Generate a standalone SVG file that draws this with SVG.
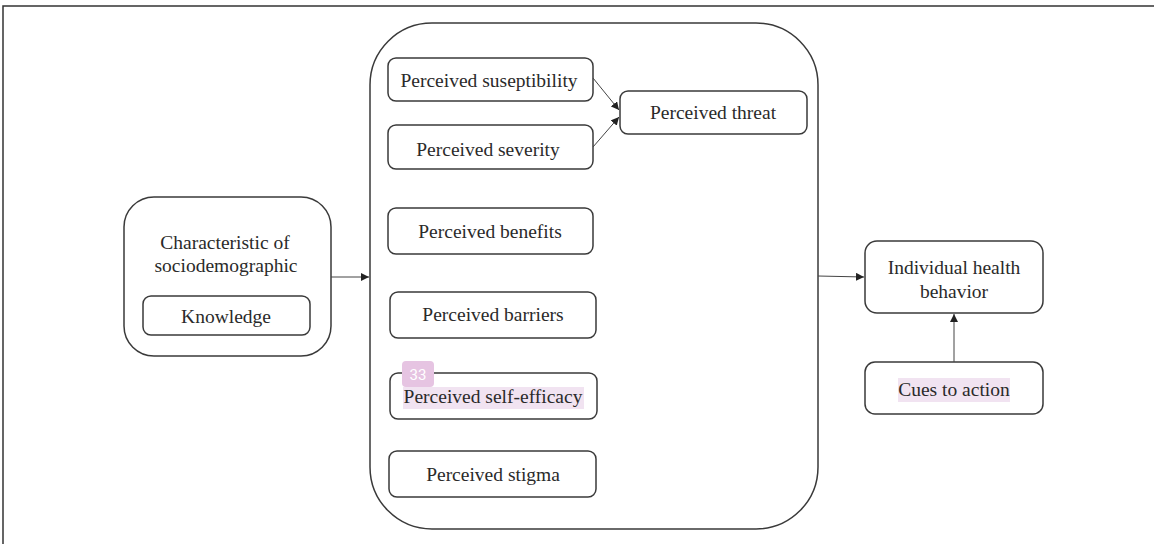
<svg xmlns="http://www.w3.org/2000/svg" width="1154" height="544" viewBox="0 0 1154 544">
<defs>
<style>
.box{fill:#fff;stroke:#3a3a3a;stroke-width:1.5}
.t{font-family:"Liberation Serif","Times New Roman",serif;font-size:19.5px;fill:#2a2a2a;text-anchor:middle}
.c{stroke:#444;stroke-width:1;fill:none}
.hl{fill:#f1e3f1}
</style>
<marker id="ah" viewBox="0 0 10 10" refX="10" refY="5" markerWidth="8" markerHeight="8" markerUnits="userSpaceOnUse" orient="auto">
<path d="M0,0 L10,5 L0,10 z" fill="#222"/>
</marker>
</defs>
<rect x="0" y="0" width="1154" height="544" fill="#fff"/>
<rect x="3" y="6" width="1170" height="560" fill="none" stroke="#333" stroke-width="1.5"/>
<g id="main">
<rect class="box" x="370" y="23" width="448" height="506" rx="62" ry="62"/>
</g>
<g id="sociodemographic">
<rect class="box" x="124" y="197" width="207" height="159" rx="30" ry="30"/>
<text class="t" x="225" y="249">Characteristic of</text>
<text class="t" x="226" y="272">sociodemographic</text>
</g>
<g id="knowledge">
<rect class="box" x="143" y="296" width="167" height="39" rx="8" ry="8"/>
<text class="t" x="226" y="323">Knowledge</text>
</g>
<g id="susceptibility">
<rect class="box" x="388" y="58" width="205" height="43" rx="8" ry="8"/>
<text class="t" x="489" y="87">Perceived suseptibility</text>
</g>
<g id="severity">
<rect class="box" x="388" y="125" width="205" height="44" rx="8" ry="8"/>
<text class="t" x="488" y="156">Perceived severity</text>
</g>
<g id="threat">
<rect class="box" x="620" y="91" width="187" height="43" rx="8" ry="8"/>
<text class="t" x="713" y="119">Perceived threat</text>
</g>
<g id="benefits">
<rect class="box" x="388" y="208" width="205" height="46" rx="8" ry="8"/>
<text class="t" x="490" y="238">Perceived benefits</text>
</g>
<g id="barriers">
<rect class="box" x="390" y="292" width="206" height="46" rx="8" ry="8"/>
<text class="t" x="493" y="321">Perceived barriers</text>
</g>
<g id="selfefficacy">
<rect class="box" x="390" y="373" width="207" height="46" rx="8" ry="8"/>
<rect class="hl" x="403" y="387" width="181" height="22"/>
<rect x="402" y="361" width="32" height="26" rx="4" fill="#e6c4e2"/>
<text x="418" y="380" font-family="Roboto,sans-serif" font-size="15" fill="#fff" text-anchor="middle">33</text>
<text class="t" x="493" y="403">Perceived self-efficacy</text>
</g>
<g id="stigma">
<rect class="box" x="389" y="451" width="207" height="46" rx="8" ry="8"/>
<text class="t" x="493" y="481">Perceived stigma</text>
</g>
<g id="behavior">
<rect class="box" x="865" y="241" width="178" height="72" rx="12" ry="12"/>
<text class="t" x="954" y="274">Individual health</text>
<text class="t" x="954" y="298">behavior</text>
</g>
<g id="cues">
<rect class="box" x="865" y="362" width="178" height="52" rx="10" ry="10"/>
<rect class="hl" x="898" y="378" width="112" height="24"/>
<text class="t" x="954" y="396">Cues to action</text>
</g>
<g id="connectors">
<line class="c" x1="593" y1="78" x2="619" y2="110" marker-end="url(#ah)"/>
<line class="c" x1="593" y1="147" x2="619" y2="117" marker-end="url(#ah)"/>
<line class="c" x1="331" y1="277" x2="369" y2="277" marker-end="url(#ah)"/>
<line class="c" x1="818" y1="276" x2="864" y2="277" marker-end="url(#ah)"/>
<line class="c" x1="954" y1="362" x2="954" y2="314" marker-end="url(#ah)"/>
</g>
</svg>
